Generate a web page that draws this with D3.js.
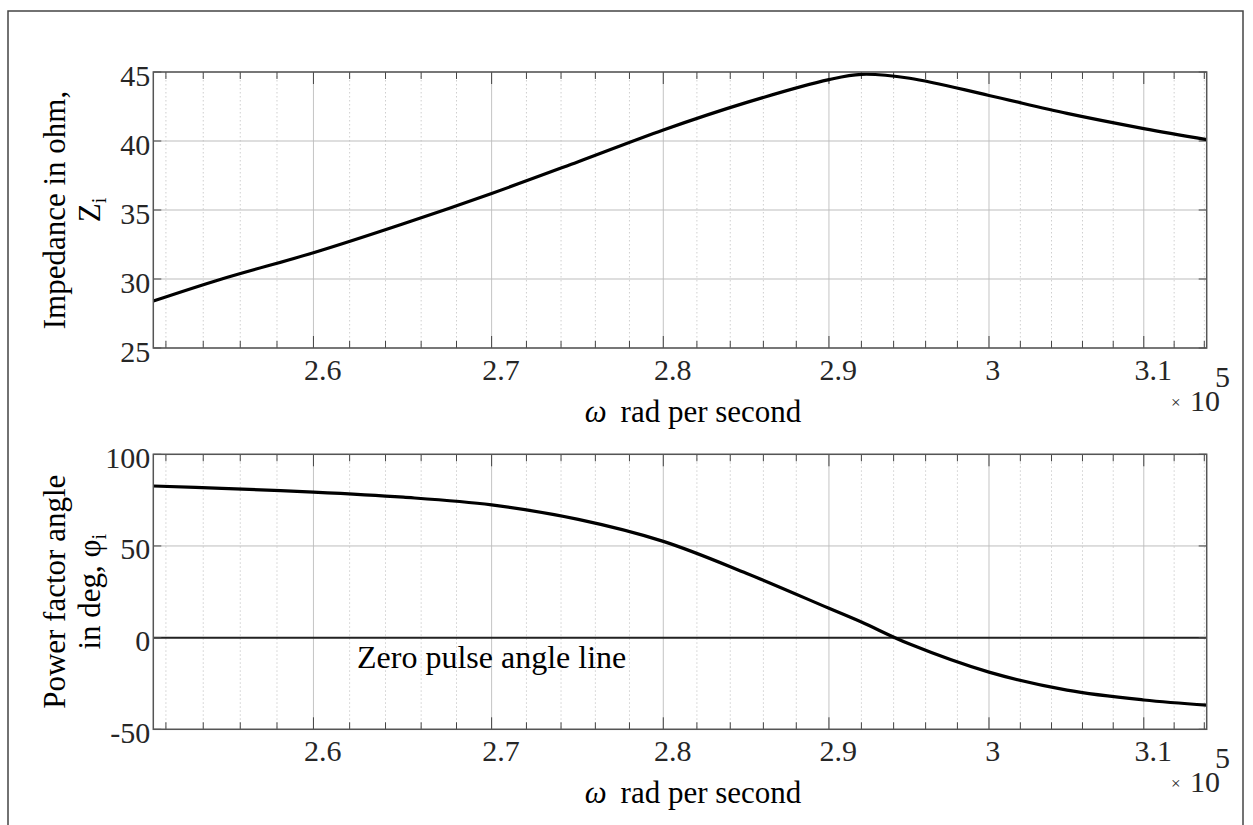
<!DOCTYPE html>
<html>
<head>
<meta charset="utf-8">
<script src="https://cdn.jsdelivr.net/npm/d3@7"></script>
<style>
body { margin: 0; background: #fff; }
svg { display: block; font-family: "Liberation Serif", "Times New Roman", serif; }
</style>
</head>
<body>
<svg id="fig" width="1253" height="825"></svg>
<script>
// omega in units of 1e5 rad/s
const omega = [2.5133, 2.55, 2.6, 2.65, 2.7, 2.75, 2.8, 2.85, 2.9, 2.92, 2.95, 3.0, 3.05, 3.1, 3.1416];
// impedance Zi in ohm
const impedance = [28.4, 30.0, 31.9, 34.0, 36.2, 38.5, 40.8, 42.8, 44.45, 44.83, 44.55, 43.3, 42.0, 40.9, 40.1];
// power factor angle phi_i in degrees
const phaseAngle = [82.7, 81.4, 79.4, 76.6, 72.4, 64.5, 52.5, 35, 16, 8.5, -3.5, -18.8, -28.6, -34, -36.8];

const xMajor = [2.6, 2.7, 2.8, 2.9, 3.0, 3.1];
const xMajorLabels = ["2.6", "2.7", "2.8", "2.9", "3", "3.1"];
const xMinor = d3.range(126, 158).map(k => k * 0.02).filter(v => !xMajor.some(m => Math.abs(m - v) < 1e-6));
const zTicks = [25, 30, 35, 40, 45];
const phiTicks = [-50, 0, 50, 100];

const left = 153.3, right = 1206.7;
const svg = d3.select("#fig");

// outer figure frame
svg.append("rect").attr("x", 8).attr("y", 11).attr("width", 1235).attr("height", 830)
    .attr("fill", "none").attr("stroke", "#444").attr("stroke-width", 1.5);

const x = d3.scaleLog().domain([0.8 * Math.PI, Math.PI]).range([left, right]);

function drawPanel(top, bottom, yDomain, yTicks, values, labelLines, zeroLine) {
    const y = d3.scaleLinear().domain(yDomain).range([bottom, top]);
    const g = svg.append("g");

    // grids
    g.selectAll("line.minor").data(xMinor).join("line").attr("class", "minor")
        .attr("x1", d => x(d)).attr("x2", d => x(d)).attr("y1", top).attr("y2", bottom)
        .attr("stroke", "#cfcfcf").attr("stroke-dasharray", "1.5,2.5");
    g.selectAll("line.major").data(xMajor).join("line").attr("class", "major")
        .attr("x1", d => x(d)).attr("x2", d => x(d)).attr("y1", top).attr("y2", bottom)
        .attr("stroke", "#c4c4c4");
    g.selectAll("line.ygrid").data(yTicks).join("line").attr("class", "ygrid")
        .attr("x1", left).attr("x2", right).attr("y1", d => y(d)).attr("y2", d => y(d))
        .attr("stroke", "#bdbdbd");

    if (zeroLine) {
        g.append("line").attr("x1", left).attr("x2", right).attr("y1", y(0)).attr("y2", y(0))
            .attr("stroke", "#222").attr("stroke-width", 2);
    }

    // tick marks, box style
    const tickCol = "#444";
    [[bottom, -1], [top, 1]].forEach(([yy, s]) => {
        g.selectAll(null).data(xMajor).join("line")
            .attr("x1", d => x(d)).attr("x2", d => x(d)).attr("y1", yy).attr("y2", yy + s * 12)
            .attr("stroke", tickCol);
        g.selectAll(null).data(xMinor).join("line")
            .attr("x1", d => x(d)).attr("x2", d => x(d)).attr("y1", yy).attr("y2", yy + s * 7)
            .attr("stroke", tickCol);
    });
    [[left, 1], [right, -1]].forEach(([xx, s]) => {
        g.selectAll(null).data(yTicks).join("line")
            .attr("x1", xx).attr("x2", xx + s * 8).attr("y1", d => y(d)).attr("y2", d => y(d))
            .attr("stroke", tickCol);
    });

    // curve
    const line = d3.line().x(d => x(d[0])).y(d => y(d[1])).curve(d3.curveCatmullRom.alpha(0.5));
    g.append("path").datum(omega.map((w, i) => [w, values[i]]))
        .attr("d", line).attr("fill", "none").attr("stroke", "#000").attr("stroke-width", 3.2);

    // box
    g.append("rect").attr("x", left).attr("y", top).attr("width", right - left).attr("height", bottom - top)
        .attr("fill", "none").attr("stroke", "#555").attr("stroke-width", 1.5);

    // y tick labels
    g.selectAll("text.yt").data(yTicks).join("text").attr("class", "yt")
        .attr("x", left - 3).attr("y", d => y(d)).attr("dy", "0.45em")
        .attr("text-anchor", "end").attr("font-size", 30).attr("fill", "#262626")
        .text(d => d);

    // x tick labels
    g.selectAll("text.xt").data(xMajor).join("text").attr("class", "xt")
        .attr("y", bottom + 32).attr("font-size", 30).attr("fill", "#262626")
        .text((d, i) => xMajorLabels[i])
        .each(function (d) {
            const w = this.getComputedTextLength();
            d3.select(this).attr("x", x(d) - 0.25 * w);
        });

    // exponent
    const ex = g.append("g").attr("fill", "#262626");
    ex.append("text").attr("x", 1171).attr("y", bottom + 60).attr("font-size", 17).text("×");
    ex.append("text").attr("x", 1190).attr("y", bottom + 63).attr("font-size", 30).text("10");
    ex.append("text").attr("x", 1215).attr("y", bottom + 39).attr("font-size", 30).text("5");

    // x label
    const xl = g.append("text").attr("x", 693).attr("y", bottom + 74)
        .attr("text-anchor", "middle").attr("font-size", 31).attr("fill", "#000");
    xl.append("tspan").attr("font-style", "italic").text("ω");
    xl.append("tspan").attr("dx", 14).text("rad per second");

    // y label (two lines)
    const cy = (top + bottom) / 2;
    labelLines.forEach((ln, i) => {
        const t = g.append("text")
            .attr("transform", `translate(${[65, 100][i]},${cy}) rotate(-90)`)
            .attr("text-anchor", "middle").attr("font-size", 31).attr("fill", "#000");
        t.append("tspan").text(ln[0]);
        if (ln[1]) {
            t.append("tspan").attr("font-size", 20).attr("dy", 6).text(ln[1]);
        }
    });
    return y;
}

drawPanel(72, 348, [25, 45], zTicks, impedance,
    [["Impedance in ohm,"], ["Z", "i"]], false);
drawPanel(454.3, 729.3, [-50, 100], phiTicks, phaseAngle,
    [["Power factor angle"], ["in deg, φ", "i"]], true);

svg.append("text").attr("x", 357).attr("y", 668).attr("font-size", 32).attr("fill", "#000")
    .text("Zero pulse angle line");
</script>
</body>
</html>
